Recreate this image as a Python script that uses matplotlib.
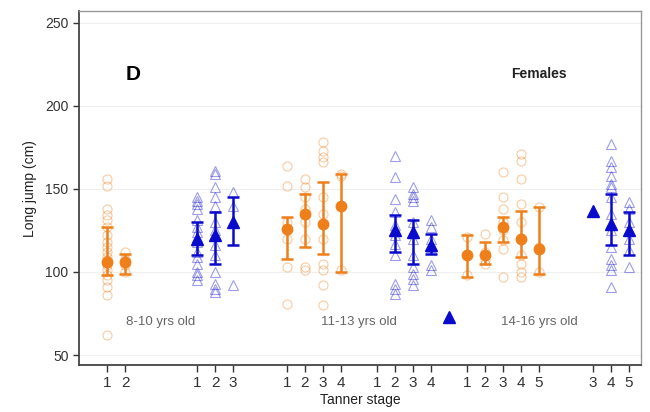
import matplotlib
matplotlib.use("Agg")
import matplotlib.pyplot as plt
import numpy as np

plt.rcParams["font.family"] = ["Liberation Sans", "DejaVu Sans"]

# orange circles
orange_age = [0, 0, 1, 1, 1, 1, 2, 2, 2, 2, 2]
orange_stage = [1, 2, 1, 2, 3, 4, 1, 2, 3, 4, 5]
orange_mean = [106, 106, 126, 135, 129, 140, 110, 110, 127, 120, 114]
orange_lo = [98, 99, 108, 115, 111, 100, 97, 105, 118, 109, 99]
orange_hi = [127, 111, 133, 147, 154, 159, 122, 118, 133, 137, 139]
orange_points = [
    [156, 152, 138, 134, 131, 127, 122, 118, 115, 112, 109, 107, 104, 101, 98, 95, 91, 86, 62],
    [112, 108, 104, 100],
    [164, 152, 130, 125, 120, 103, 81],
    [156, 151, 145, 138, 130, 120, 103, 101],
    [178, 173, 169, 166, 145, 135, 120, 105, 101, 92, 80],
    [159, 158, 101],
    [121, 110, 98],
    [123, 112, 107, 105],
    [160, 145, 138, 130, 125, 119, 114, 97],
    [171, 167, 156, 141, 130, 120, 110, 105, 100, 97],
    [139, 115, 100],
]

# blue triangles
blue_age = [0, 0, 0, 1, 1, 1, 1, 2, 2, 2]
blue_stage = [1, 2, 3, 2, 3, 4, 5, 3, 4, 5]
blue_mean = [120, 122, 130, 125, 124, 116, 73, 137, 129, 125]
blue_lo = [110, 105, 116, 112, 105, 111, None, None, 116, 110]
blue_hi = [130, 136, 145, 134, 131, 123, None, None, 147, 136]
blue_points = [
    [145, 143, 141, 138, 131, 127, 124, 121, 118, 112, 109, 105, 100, 98, 95],
    [161, 159, 151, 145, 140, 130, 125, 116, 110, 100, 93, 90, 88],
    [148, 140, 92],
    [170, 157, 144, 136, 128, 122, 117, 110, 93, 90, 87],
    [151, 147, 145, 143, 130, 120, 110, 103, 99, 96, 92],
    [131, 127, 120, 115, 104, 101],
    [],
    [],
    [177, 167, 163, 158, 153, 151, 145, 135, 125, 115, 108, 104, 101, 91],
    [142, 138, 130, 120, 113, 103],
]

# tick labels per block (orange 8-10, blue 8-10, orange 11-13, ...)
tick_blocks = [[1, 2], [1, 2, 3], [1, 2, 3, 4], [1, 2, 3, 4], [1, 2, 3, 4, 5], [3, 4, 5]]
age_labels = ["8-10 yrs old", "11-13 yrs old", "14-16 yrs old"]

ORANGE = "#EE7F1A"
BLUE = "#0A0ACC"


def slot(age, stage, block):
    return age * 10 + block * 5 + stage - 1


fig = plt.figure(figsize=(6.5, 4.12), dpi=100)
ax = fig.add_axes([0.1215, 0.114, 0.8645, 0.859])

for y in [50, 100, 150, 200, 250]:
    ax.axhline(y, color="#efefef", lw=0.8, zorder=0)


def draw(ages, stages, means, los, his, pts, block, color, marker, ms_open, ms_fill):
    for a, s, m, lo, hi, p in zip(ages, stages, means, los, his, pts):
        x = slot(a, s, block)
        if p:
            ax.plot([x] * len(p), p, ls="none", marker=marker, ms=ms_open,
                    mfc="none", mec=color, mew=0.8, alpha=0.4, zorder=2)
        if lo is not None:
            ax.errorbar(x, m, yerr=[[m - lo], [hi - m]], fmt="none", ecolor=color,
                        elinewidth=1.8, capsize=4, capthick=1.8, zorder=3)
        ax.plot(x, m, ls="none", marker=marker, ms=ms_fill, color=color, zorder=4)


draw(orange_age, orange_stage, orange_mean, orange_lo, orange_hi, orange_points,
     0, ORANGE, "o", 6.5, 7.5)
draw(blue_age, blue_stage, blue_mean, blue_lo, blue_hi, blue_points,
     1, BLUE, "^", 7, 8)

ticks, labels = [], []
for i, block in enumerate(tick_blocks):
    age, side = i // 2, i % 2
    for s in block:
        ticks.append(slot(age, s, side))
        labels.append(str(s))
ax.set_xticks(ticks)
ax.set_xticklabels(labels, fontsize=11)
ax.set_xlim(-1.56, 29.67)
ax.set_ylim(44, 257)
ax.set_yticks([50, 100, 150, 200, 250])
ax.tick_params(axis="y", labelsize=10, length=4, width=1, colors="#333333")
ax.tick_params(axis="x", length=5, width=1, pad=3, colors="#333333")

for side in ["top", "right"]:
    ax.spines[side].set_color("#999999")
    ax.spines[side].set_linewidth(1.0)
for side in ["left", "bottom"]:
    ax.spines[side].set_color("#444444")
    ax.spines[side].set_linewidth(1.3)

ax.set_ylabel("Long jump (cm)", fontsize=10, color="#222222", labelpad=6)
ax.set_xlabel("Tanner stage", fontsize=10, color="#222222", labelpad=2)

for i, lab in enumerate(age_labels):
    ax.text([3.0, 14.0, 24.0][i], 70, lab, ha="center", va="center", fontsize=9.5,
            color="#666666")

ax.text(1.45, 219, "D", ha="center", va="center", fontsize=15, fontweight="bold")
ax.text(24.0, 219, "Females", ha="center", va="center", fontsize=10, fontweight="bold",
        color="#222222")

fig.savefig("out.png", dpi=100)
